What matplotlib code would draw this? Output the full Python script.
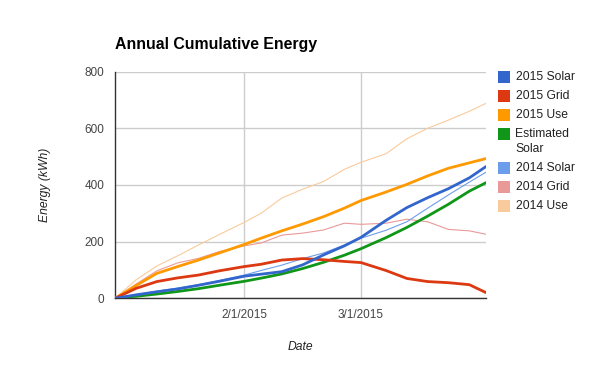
import numpy as np
import pandas as pd
import matplotlib
matplotlib.use('Agg')
import matplotlib.pyplot as plt
import matplotlib.dates as mdates
from matplotlib.patches import Rectangle

plt.rcParams['font.family'] = ['Liberation Sans', 'DejaVu Sans']

# days since 1/1/2015
days = [0, 5, 10, 15, 20, 25, 31, 35, 40, 45, 50, 55, 59, 65, 70, 75, 80, 85, 89]

solar_2015 = [0, 12, 23, 33, 46, 60, 78, 85, 94, 118, 153, 185, 215, 275, 320, 355, 387, 425, 465]
grid_2015 = [0, 35, 59, 72, 82, 97, 112, 120, 135, 140, 136, 130, 126, 98, 70, 59, 55, 48, 20]
use_2015 = [0, 45, 88, 112, 135, 160, 190, 212, 238, 262, 288, 318, 345, 375, 402, 432, 459, 478, 493]
est_solar = [0, 7, 15, 24, 34, 46, 60, 71, 86, 105, 127, 152, 175, 214, 250, 290, 332, 378, 408]
solar_2014 = [0, 13, 25, 36, 48, 63, 82, 98, 117, 140, 160, 188, 212, 240, 270, 318, 365, 410, 445]
grid_2014 = [0, 50, 97, 125, 141, 165, 185, 195, 223, 230, 241, 265, 261, 265, 279, 270, 243, 238, 226]
use_2014 = [0, 65, 114, 150, 188, 225, 268, 300, 354, 385, 412, 455, 480, 510, 563, 600, 629, 660, 688]

series = [
    ('2015 Solar', solar_2015, '#3366cc', 2.0),
    ('2015 Grid', grid_2015, '#dc3912', 2.0),
    ('2015 Use', use_2015, '#ff9900', 2.0),
    ('Estimated\nSolar', est_solar, '#109618', 2.0),
    ('2014 Solar', solar_2014, '#6d9eeb', 0.8),
    ('2014 Grid', grid_2014, '#ea9999', 0.8),
    ('2014 Use', use_2014, '#f9cb9c', 0.8),
]

dates = pd.Timestamp('2015-01-01') + pd.to_timedelta(days, unit='D')

W, H = 600, 371
fig = plt.figure(figsize=(6, 3.71), dpi=100)
ax = fig.add_axes([0.192, 0.196, 0.618, 0.611])

# thin (2014) lines go under the thick ones
for name, vals, col, lw in series[::-1]:
    ax.plot(dates, vals, color=col, lw=lw, solid_capstyle='round', zorder=3 if lw > 1 else 2)

ax.set_ylim(0, 800)
ax.set_yticks([0, 200, 400, 600, 800])
ax.set_xlim(pd.Timestamp('2015-01-01'), pd.Timestamp('2015-03-31'))
ax.set_xticks([pd.Timestamp('2015-02-01'), pd.Timestamp('2015-03-01')])
ax.xaxis.set_major_formatter(mdates.DateFormatter('%-m/%-d/%Y'))
ax.grid(True, color='#cccccc', lw=1)
ax.set_axisbelow(True)
for s in ['top', 'right']:
    ax.spines[s].set_visible(False)
for s in ['left', 'bottom']:
    ax.spines[s].set_color('#333333')
    ax.spines[s].set_linewidth(1)
ax.tick_params(length=0, labelsize=8.5, labelcolor='#444444', pad=8)

ax.set_ylabel('Energy (kWh)', fontstyle='italic', fontsize=8.7, color='#222222', labelpad=24)
ax.set_xlabel('Date', fontstyle='italic', fontsize=8.7, color='#222222', labelpad=14)

fig.text(115 / W, 1 - 44 / H, 'Annual Cumulative Energy', fontsize=11.4, fontweight='bold',
         va='center', ha='left')

# legend, drawn by hand to match spacing
y = 77
for name, vals, col, lw in series:
    fig.patches.append(Rectangle((498 / W, 1 - (y + 6) / H), 12 / W, 12 / H,
                                 transform=fig.transFigure, facecolor=col, edgecolor='none'))
    lines = name.split('\n')
    for i, ln in enumerate(lines):
        fig.text(515.5 / W, 1 - (y + i * 15.3) / H, ln, fontsize=8.7, color='#222222',
                 va='center', ha='left')
    y += 19 + (len(lines) - 1) * 15.3

fig.savefig('out.png', dpi=100)
